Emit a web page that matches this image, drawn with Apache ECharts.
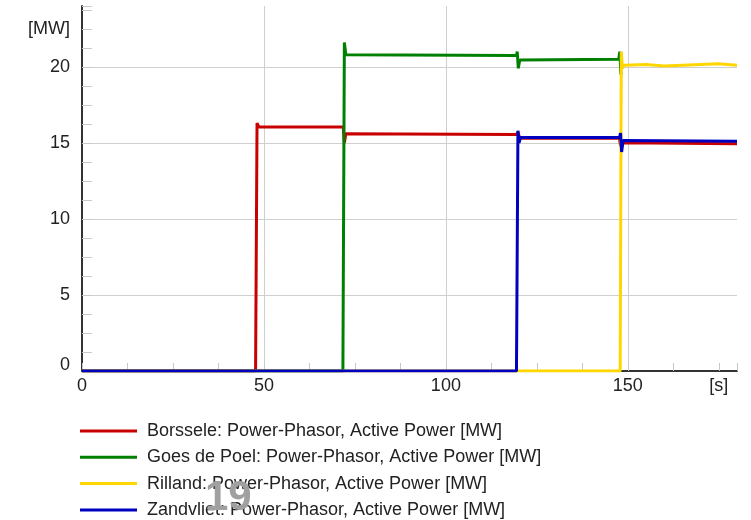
<!DOCTYPE html>
<html>
<head>
<meta charset="utf-8">
<script src="https://cdn.jsdelivr.net/npm/echarts@6/dist/echarts.min.js"></script>
<style>html,body{margin:0;padding:0;background:#fff}#c{width:751px;height:520px}</style>
</head>
<body>
<div id="c"></div>
<script>
// ---- data (time in s, active power in MW) ----
const borsseleT = [0, 47.7, 48.1, 48.6, 71.8, 72.1, 72.5, 119.4, 119.8, 120.3, 147.7, 148.0, 148.5, 180];
const borsseleP = [0, 0, 16.3, 16.05, 16.05, 15.0, 15.6, 15.55, 15.7, 15.3, 15.3, 14.8, 15.0, 14.95];
const goesT = [0, 71.7, 72.1, 72.5, 119.4, 119.6, 119.9, 120.3, 147.5, 147.8, 148.1];
const goesP = [0, 0, 21.6, 20.8, 20.75, 21.0, 19.9, 20.45, 20.5, 21.0, 19.5];
const rillandT = [0, 147.9, 148.2, 148.5, 148.9, 155, 160, 165, 170, 175, 180];
const rillandP = [0, 0, 21.0, 19.9, 20.1, 20.15, 20.05, 20.1, 20.15, 20.2, 20.1];
const zandvlietT = [0, 119.4, 119.8, 120.1, 120.5, 147.7, 148.0, 148.3, 148.7, 180];
const zandvlietP = [0, 0, 15.8, 15.0, 15.35, 15.35, 15.65, 14.4, 15.15, 15.1];

const seriesNames = [
  'Borssele: Power-Phasor, Active Power [MW]',
  'Goes de Poel: Power-Phasor, Active Power [MW]',
  'Rilland: Power-Phasor, Active Power [MW]',
  'Zandvliet: Power-Phasor, Active Power [MW]'
];
const seriesColors = ['#c80000', '#008000', '#ffd700', '#0000c0'];
const xLabelValues = [0, 50, 100, 150];
const yLabelValues = [0, 5, 10, 15, 20];
const xUnit = '[s]';
const yUnit = '[MW]';
const pageNumber = '19';

function pairs(t, p) { return t.map((v, i) => [v, p[i]]); }
const allData = [
  pairs(borsseleT, borsseleP),
  pairs(goesT, goesP),
  pairs(rillandT, rillandP),
  pairs(zandvlietT, zandvlietP)
];

const FONT = 'Liberation Sans, Arial, sans-serif';
const chart = echarts.init(document.getElementById('c'), null, {renderer: 'canvas'});
chart.setOption({
  animation: false,
  backgroundColor: '#fff',
  grid: {left: 82, right: 14, top: 6, bottom: 149, containLabel: false},
  legend: {
    orient: 'vertical', left: 80, top: 421, padding: 0,
    itemWidth: 57, itemHeight: 20, itemGap: 6.3,
    icon: 'path://M0,0 L57,0 L57,3 L0,3 Z',
    textStyle: {fontFamily: FONT, fontSize: 18, lineHeight: 20, color: '#222', padding: [0, 0, 0, 5]},
    data: seriesNames
  },
  xAxis: [{
    type: 'value', min: 0, max: 180, interval: 12.5,
    axisLine: {show: true, onZero: false, lineStyle: {color: '#333', width: 2}},
    axisTick: {show: true, inside: true, length: 8, lineStyle: {color: '#c8c8c8'}},
    axisLabel: {
      margin: 6, fontFamily: FONT, fontSize: 18, color: '#222', showMaxLabel: true,
      formatter: v => xLabelValues.indexOf(v) >= 0 ? String(v) : (v === 175 ? xUnit : '')
    },
    splitLine: {show: false}
  }, {
    type: 'value', min: 0, max: 180, interval: 50, position: 'bottom',
    axisLine: {show: false}, axisTick: {show: false}, axisLabel: {show: false},
    splitLine: {show: true, showMinLine: false, showMaxLine: false, lineStyle: {color: '#cfcfcf', width: 1}}
  }],
  yAxis: [{
    type: 'value', min: 0, max: 24, interval: 1.25,
    axisLine: {show: true, onZero: false, lineStyle: {color: '#333', width: 2}},
    axisTick: {show: true, inside: true, length: 10, lineStyle: {color: '#c8c8c8'}},
    axisLabel: {
      margin: 12, fontFamily: FONT, fontSize: 18, color: '#222',
      formatter: v => v === 0 ? '{z|0}' : (yLabelValues.indexOf(v) >= 0 ? String(v) : (v === 22.5 ? yUnit : '')),
      rich: {z: {fontFamily: FONT, fontSize: 18, color: '#222', padding: [0, 0, 11, 0]}}
    },
    splitLine: {show: false}
  }, {
    type: 'value', min: 0, max: 24, interval: 5, position: 'left',
    axisLine: {show: false}, axisTick: {show: false}, axisLabel: {show: false},
    splitLine: {show: true, showMinLine: false, showMaxLine: false, lineStyle: {color: '#cfcfcf', width: 1}}
  }],
  series: allData.map((d, i) => ({
    name: seriesNames[i], type: 'line', data: d,
    xAxisIndex: 0, yAxisIndex: 0,
    showSymbol: false, symbol: 'none', clip: true,
    color: seriesColors[i],
    lineStyle: {color: seriesColors[i], width: 3},
    z: 2 + i
  })),
  graphic: [{
    type: 'text', left: 205, top: 477, z: 100,
    style: {text: pageNumber, font: 'bold 42px ' + FONT, fill: '#a0a0a0'}
  }]
});
</script>
</body>
</html>
